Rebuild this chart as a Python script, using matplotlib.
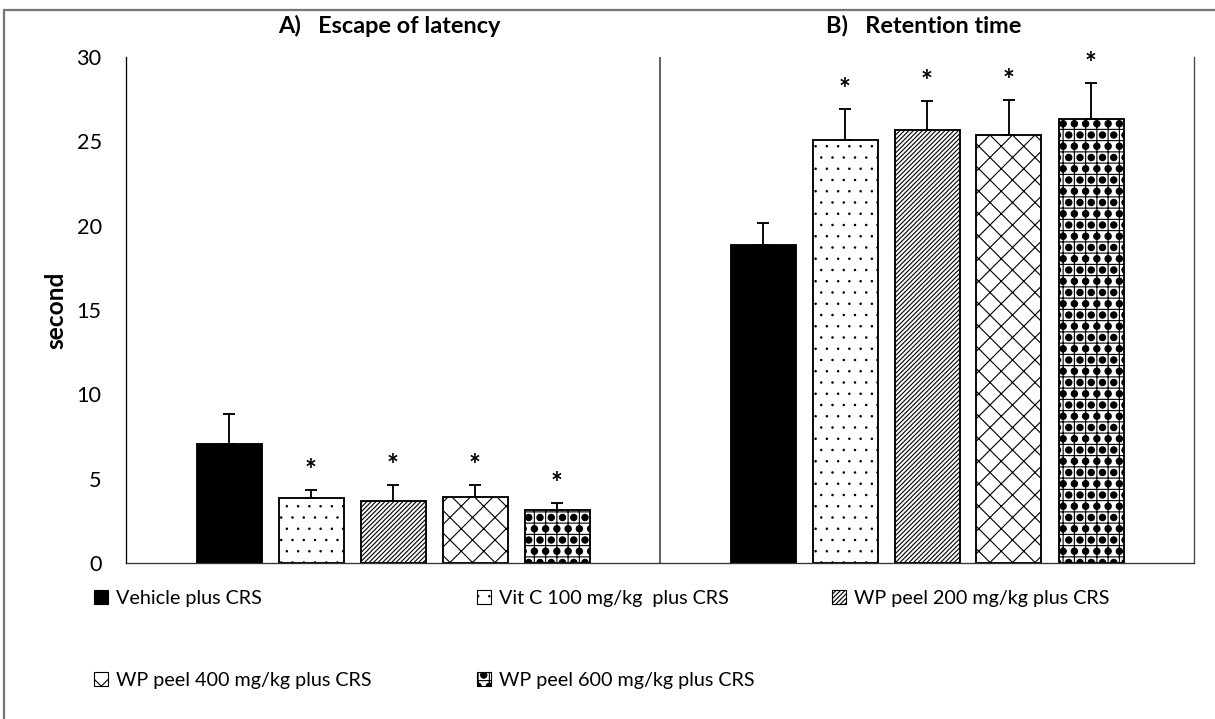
import matplotlib
matplotlib.use('Agg')
import matplotlib.pyplot as plt
import matplotlib.hatch as mhatch
from matplotlib.patches import Rectangle, Patch
import numpy as np

## pattern tweaks: big filled dots for the 600 mg/kg group, tiny dots for Vit C
mhatch.LargeCircles.filled = True
mhatch.LargeCircles.size = 0.28
mhatch.SmallFilledCircles.size = 0.06

plt.rcParams['font.family'] = ['Lato', 'DejaVu Sans']
plt.rcParams['hatch.linewidth'] = 0.6

panels = ['A)   Escape of latency', 'B)   Retention time']
groups = ['Vehicle plus CRS', 'Vit C 100 mg/kg  plus CRS', 'WP peel 200 mg/kg plus CRS',
          'WP peel 400 mg/kg plus CRS', 'WP peel 600 mg/kg plus CRS']

# mean values (seconds), rows = groups, cols = panels
means = [[7.04, 18.83],
         [3.87, 25.08],
         [3.69, 25.65],
         [3.93, 25.36],
         [3.12, 26.32]]
# upper error (SEM)
errs = [[1.78, 1.35],
        [0.46, 1.84],
        [0.93, 1.76],
        [0.69, 2.09],
        [0.46, 2.16]]
signif = [False, True, True, True, True]

hatches = ['', '..', '//////////', 'xx', '++OO']
faces = ['black', 'white', 'white', 'white', 'white']

fig = plt.figure(figsize=(9.0, 719 / 135), dpi=135)
ax = fig.add_axes([126 / 1215, 1 - 563 / 719, (1194 - 126) / 1215, (563 - 57) / 719])

x = np.arange(len(panels))
step = 82 / 534
width = 65 / 534
handles = []
for i, g in enumerate(groups):
    pos = x + (i - 2) * step
    m = np.array([means[i][0], means[i][1]])
    e = np.array([errs[i][0], errs[i][1]])
    ax.bar(pos, m, width, color=faces[i], edgecolor='black', linewidth=1.0,
           hatch=hatches[i], label=g, zorder=2)
    ax.errorbar(pos, m, yerr=[np.zeros_like(e), e], fmt='none', ecolor='black',
                elinewidth=1.0, capsize=3, capthick=1.0, zorder=3)
    if signif[i]:
        for px, top in zip(pos, m + e):
            ax.annotate('*', xy=(px, top), xytext=(0, 3), textcoords='offset points',
                        ha='center', va='bottom', fontsize=15, fontweight='bold')
    handles.append(Patch(facecolor=faces[i], edgecolor='black', linewidth=0.6,
                         hatch=hatches[i]))

ax.set_xlim(-0.5, 1.5)
ax.set_ylim(0, 30)
ax.set_yticks([0, 5, 10, 15, 20, 25, 30])
ax.tick_params(axis='y', length=0, pad=13, labelsize=11.5)
ax.set_xticks([])
ax.set_ylabel('second', fontsize=13, fontweight='bold', labelpad=5)
ax.axvline(0.5, color='#333333', linewidth=0.8, zorder=1)
ax.spines['top'].set_visible(False)
ax.spines['left'].set_color('black')
ax.spines['bottom'].set_color('#333333')
ax.spines['right'].set_color('#444444')
for s in ['left', 'bottom', 'right']:
    ax.spines[s].set_linewidth(0.7)

for j, p in enumerate(panels):
    ax.text((j + 0.5) / 2 - 0.003, (563 - 26) / 506, p, transform=ax.transAxes,
            ha='center', va='center', fontsize=12.5, fontweight='bold')

# legend laid out row-wise in three columns
cols = [[0, 3], [1, 4], [2]]
col_x = [94, 477, 832]
for c, xx in zip(cols, col_x):
    fig.legend([handles[k] for k in c], [groups[k] for k in c], loc='upper left',
               bbox_to_anchor=(xx / 1215, 1 - 590 / 719), frameon=False, fontsize=10.5,
               handlelength=0.7, handleheight=0.7, handletextpad=0.4,
               borderpad=0, borderaxespad=0, labelspacing=3.3)

# outer frame of the picture
fig.patches.append(Rectangle((4 / 1215, -0.05), 1.2, 1 - 10 / 719 + 0.05,
                             transform=fig.transFigure, fill=False,
                             edgecolor='#777777', linewidth=1.2))

fig.savefig('out.png', dpi=135)
